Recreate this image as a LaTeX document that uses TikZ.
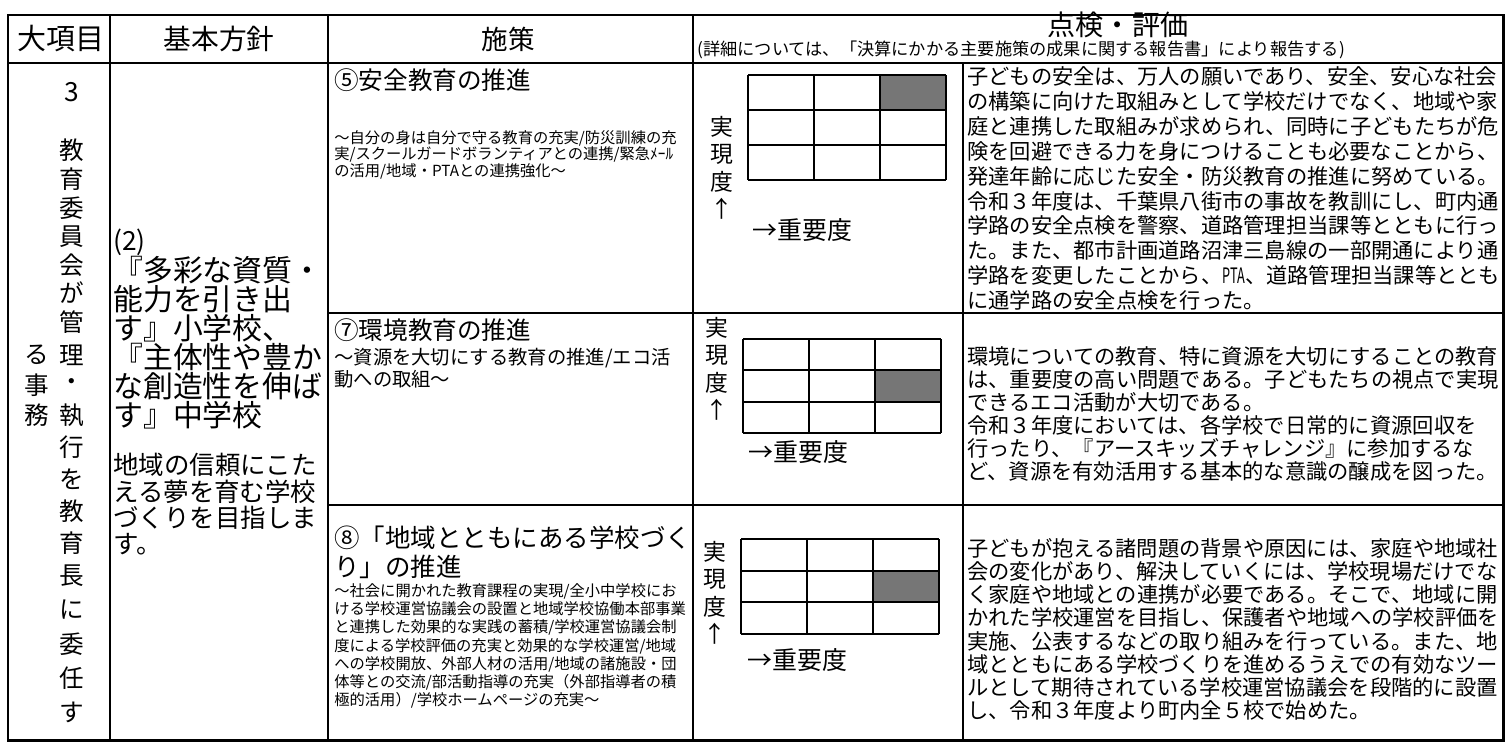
\documentclass[tikz,border=0pt]{standalone}
\usepackage{fontspec}
\setmainfont{Noto Sans CJK JP}
\usepackage{tikz}
\usetikzlibrary{positioning}
\definecolor{markcolor}{RGB}{118,118,118}
\newcommand{\fsz}[2]{\fontsize{#1}{#2}\selectfont}
\newcommand{\narrowlatin}[1]{\scalebox{0.6}[1]{#1}}
% one evaluation grid: x0, y0, cell height, shaded row
\newcommand{\hyokagrid}[4]{%
  \fill[markcolor] (#1+132,#2+#3*#4-#3) rectangle ++(66,#3);
  \foreach \k in {0,...,3} {
    \draw[gridline] (#1+66*\k,#2) -- ++(0,3*#3);
    \draw[gridline] (#1,#2+#3*\k) -- ++(198,0);
  }%
}
\tikzset{
  frameline/.style={line width=1.7pt},
  ruleline/.style={line width=1pt},
  gridline/.style={line width=1.2pt},
  headtext/.style={inner sep=0pt},
  celltext/.style={anchor=north west, align=left, inner sep=0pt},
  axistext/.style={anchor=north, align=center, inner sep=0pt, font=\fsz{13}{15.5}},
  imptext/.style={anchor=west, inner sep=0pt, font=\fsz{14.2}{16}},
}
\begin{document}
\begin{tikzpicture}[x=0.02cm, y=-0.02cm]
        \useasboundingbox (0,0) rectangle (1506,744);
        % Table frame and rules
        \draw[frameline] (8,15) rectangle (1503,740);
        \draw[frameline] (8,63) -- (1503,63);
        \draw[ruleline] (110,15) -- (110,740);
        \draw[ruleline] (328,15) -- (328,740);
        \draw[ruleline] (693,15) -- (693,740);
        \draw[ruleline] (963,63) -- (963,740);
        \draw[ruleline] (328,313) -- (1503,313);
        \draw[ruleline] (328,505) -- (1503,505);
        
        % Header row
        \node[headtext, font=\fsz{16.5}{18}] (hdai) at (61,39) {大項目};
        \node[headtext, font=\fsz{15.8}{18}] (hkihon) at (219,39) {基本方針};
        \node[headtext, font=\fsz{15.1}{18}] (hsesaku) at (508,39) {施策};
        \node[headtext, font=\fsz{16}{18}] (htenken) at (1118,25) {点検・評価};
        \node[headtext, anchor=west, font=\fsz{9.8}{11}] (hnote) at (697,50) {(詳細については、「決算にかかる主要施策の成果に関する報告書」により報告する)};
        
        % Major item, vertical writing
        \node[headtext, font=\fsz{15}{16}] (dnum) at (72,92) {3};
        \foreach \c/\y [count=\i] in {教/150, 育/179, 委/208, 員/237, 会/265, が/293, 管/322, 理/355, ・/385, 執/415, 行/447, を/479, 教/511, 育/543, 長/576, に/610, 委/644, 任/678, す/712}
          \node[headtext, font=\fsz{14}{15}] (dai\i) at (72,\y) {\c};
        \foreach \c/\y [count=\i] in {る/355, 事/385, 務/415}
          \node[headtext, font=\fsz{14}{15}] (daiL\i) at (37,\y) {\c};
        
        % Basic policy
        \node[celltext, font=\fsz{15}{16}] (knum) at (113,229) {(2)};
        \node[celltext, font=\fsz{17}{16.5}] (kpol) at (113,256) {『多彩な資質・\\能力を引き出\\す』小学校、\\『主体性や豊か\\な創造性を伸ば\\す』中学校};
        \node[celltext, font=\fsz{14.5}{15}] (kgoal) at (113,453) {地域の信頼にこた\\える夢を育む学校\\づくりを目指しま\\す。};
        
        % Measures
        \node[celltext, font=\fsz{14}{16}] (s5) at (334,68) {⑤安全教育の推進};
        \node[celltext, font=\fsz{8.7}{9.5}] (s5sub) at (334,130) {～自分の身は自分で守る教育の充実/防災訓練の充\\実/スクールガードボランティアとの連携/緊急ﾒｰﾙ\\の活用/地域・PTAとの連携強化～};
        \node[celltext, font=\fsz{14}{16}] (s7) at (334,318) {⑦環境教育の推進};
        \node[celltext, font=\fsz{11}{10.5}] (s7sub) at (334,348) {～資源を大切にする教育の推進/エコ活\\動への取組～};
        \node[celltext, font=\fsz{14.5}{16.5}] (s8) at (334,526) {⑧「地域とともにある学校づく\\り」の推進};
        \node[celltext, font=\fsz{8.7}{10.4}] (s8sub) at (334,583) {～社会に開かれた教育課程の実現/全小中学校にお\\ける学校運営協議会の設置と地域学校協働本部事業\\と連携した効果的な実践の蓄積/学校運営協議会制\\度による学校評価の充実と効果的な学校運営/地域\\への学校開放、外部人材の活用/地域の諸施設・団\\体等との交流/部活動指導の充実（外部指導者の積\\極的活用）/学校ホームページの充実～};
        
        % Evaluation grids
        \hyokagrid{748}{75}{35}{1}
        \hyokagrid{743}{339}{31.3}{2}
        \hyokagrid{741}{539}{31.7}{2}
        \node[axistext] (jg5) at (722,116) {実\\現\\度\\↑};
        \node[axistext] (jg7) at (717,317) {実\\現\\度\\↑};
        \node[axistext] (jg8) at (715,541) {実\\現\\度\\↑};
        \node[imptext] (jy5) at (752,230) {→重要度};
        \node[imptext] (jy7) at (748,452) {→重要度};
        \node[imptext] (jy8) at (747,660) {→重要度};
        
        % Evaluation texts
        \node[celltext, font=\fsz{12.1}{14.2}] (e5) at (967,66) {子どもの安全は、万人の願いであり、安全、安心な社会\\の構築に向けた取組みとして学校だけでなく、地域や家\\庭と連携した取組みが求められ、同時に子どもたちが危\\険を回避できる力を身につけることも必要なことから、\\発達年齢に応じた安全・防災教育の推進に努めている。\\令和３年度は、千葉県八街市の事故を教訓にし、町内通\\学路の安全点検を警察、道路管理担当課等とともに行っ\\た。また、都市計画道路沼津三島線の一部開通により通\\学路を変更したことから、\narrowlatin{PTA}、道路管理担当課等ととも\\に通学路の安全点検を行った。};
        \node[celltext, font=\fsz{12.1}{13.1}] (e7) at (967,346) {環境についての教育、特に資源を大切にすることの教育\\は、重要度の高い問題である。子どもたちの視点で実現\\できるエコ活動が大切である。\\令和３年度においては、各学校で日常的に資源回収を\\行ったり、『アースキッズチャレンジ』に参加するな\\ど、資源を有効活用する基本的な意識の醸成を図った。};
        \node[celltext, font=\fsz{12.1}{13.2}] (e8) at (967,538) {子どもが抱える諸問題の背景や原因には、家庭や地域社\\会の変化があり、解決していくには、学校現場だけでな\\く家庭や地域との連携が必要である。そこで、地域に開\\かれた学校運営を目指し、保護者や地域への学校評価を\\実施、公表するなどの取り組みを行っている。また、地\\域とともにある学校づくりを進めるうえでの有効なツー\\ルとして期待されている学校運営協議会を段階的に設置\\し、令和３年度より町内全５校で始めた。};
    \end{tikzpicture}
\end{document}
